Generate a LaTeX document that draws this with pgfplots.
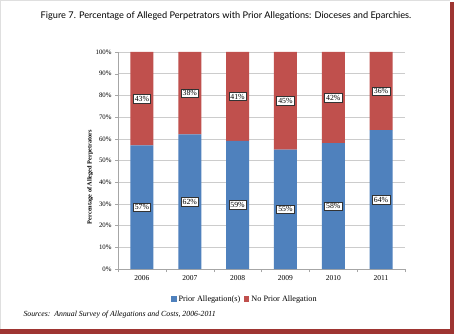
\documentclass[border=0pt]{standalone}
\usepackage{pgfplots}
\pgfplotsset{compat=1.18}
\usepackage{fontspec}
\setmainfont{Liberation Serif}
\newfontfamily\titlefont{Lato}
\definecolor{cblue}{HTML}{4F81BD}
\definecolor{cred}{HTML}{C0504D}
\definecolor{shadow}{HTML}{9E3532}
\begin{document}
\begin{tikzpicture}
\useasboundingbox (0pt,0pt) rectangle (454pt,334pt);
\fill[white] (0pt,0pt) rectangle (454pt,334pt);
\fill[shadow] (450pt,0pt) rectangle (454pt,332pt);
\fill[shadow] (0pt,0pt) rectangle (454pt,5pt);
\draw[gray!25, line width=0.8pt] (0.4pt,5pt) -- (0.4pt,333.6pt) -- (450pt,333.6pt);
\node[font={\titlefont\fontsize{9.2}{11}\selectfont}] at (226pt,318pt) {Figure 7. Percentage of Alleged Perpetrators with Prior Allegations: Dioceses and Eparchies.};
\node[anchor=west, font={\fontsize{7.8}{9}\selectfont\itshape}] at (20pt,19pt) {Sources:\ \ Annual Survey of Allegations and Costs, 2006-2011};
\node[rotate=90, font={\fontsize{6.3}{8}\selectfont\bfseries}] at (90pt,157pt) {Percentage of Alleged Perpetrators};
\begin{axis}[
  at={(118pt,65pt)}, anchor=south west,
  width=287pt, height=217pt, scale only axis,
  xmin=-0.5, xmax=5.5, ymin=0, ymax=100,
  ybar stacked, bar width=23pt,
  axis x line*=bottom, axis y line*=left,
  axis line style={gray!70, line width=0.6pt},
  ytick={0,10,...,100},
  yticklabel={\pgfmathprintnumber[assume math mode=true]{\tick}\%},
  xtick={0,...,5},
  xticklabels={2006,2007,2008,2009,2010,2011},
  minor xtick={-0.5,0.5,...,5.5},
  tick align=outside,
  major x tick style={draw=none},
  minor x tick style={gray!70},
  major y tick style={gray!70},
  major tick length=3pt, minor tick length=3pt,
  ymajorgrids, major grid style={gray!40, line width=0.5pt},
  yticklabel style={font=\fontsize{6.8}{8}\selectfont},
  xticklabel style={font=\fontsize{7.5}{9}\selectfont},
  legend style={at={(0.4425,-0.138)}, anchor=center, draw=none, fill=none,
    legend columns=2, font=\fontsize{8.2}{10}\selectfont,
    /tikz/every even column/.append style={column sep=2pt}},
  legend image code/.code={\fill[#1,draw=none] (0pt,-2.6pt) rectangle (5.2pt,2.6pt);},
]
\addplot[fill=cblue, draw=none] coordinates {(0,57) (1,62) (2,59) (3,55) (4,58) (5,64)};
\addplot[fill=cred, draw=none] coordinates {(0,43) (1,38) (2,41) (3,45) (4,42) (5,36)};
\legend{Prior Allegation(s), No Prior Allegation}
\end{axis}
\begin{axis}[
  at={(118pt,65pt)}, anchor=south west,
  width=287pt, height=217pt, scale only axis,
  xmin=-0.5, xmax=5.5, ymin=0, ymax=100,
  hide axis,
  nodes near coords style={anchor=center, fill=white, draw=black!80, line width=0.5pt,
    inner sep=1.6pt, font=\fontsize{7.8}{9}\selectfont},
]
\addplot[draw=none, mark=none, nodes near coords, point meta=explicit symbolic] coordinates {
 (0,28.5) [57\%] (1,31) [62\%] (2,29.5) [59\%] (3,27.5) [55\%] (4,29) [58\%] (5,32) [64\%]
 (0,78.5) [43\%] (1,81) [38\%] (2,79.5) [41\%] (3,77.5) [45\%] (4,79) [42\%] (5,82) [36\%]
};
\end{axis}
\end{tikzpicture}
\end{document}
